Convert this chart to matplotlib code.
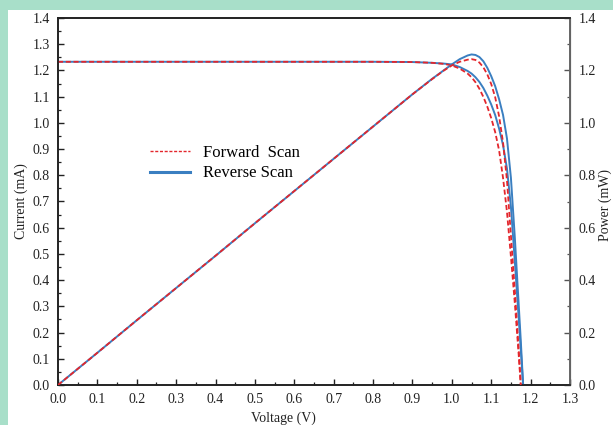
import matplotlib
matplotlib.use('Agg')
import matplotlib.pyplot as plt
from matplotlib.lines import Line2D
from matplotlib.patches import Rectangle
from matplotlib.ticker import MultipleLocator

plt.rcParams['font.family'] = ['Liberation Serif', 'DejaVu Serif']

# values (V, mA, mW)
voltage_fwd = [0.0, 0.1, 0.2, 0.3, 0.4, 0.5, 0.6, 0.7, 0.8, 0.9, 0.95, 0.98, 1.0, 1.02, 1.04,
               1.05, 1.06, 1.07, 1.08, 1.09, 1.10, 1.11, 1.12, 1.13, 1.14, 1.15, 1.16, 1.17, 1.175]
current_fwd = [1.233, 1.233, 1.233, 1.233, 1.233, 1.233, 1.233, 1.233, 1.233, 1.232, 1.229, 1.225,
               1.219, 1.207, 1.188, 1.174, 1.155, 1.130, 1.099, 1.062, 1.018, 0.965, 0.895, 0.790,
               0.660, 0.490, 0.310, 0.110, 0.0]
power_fwd = [0.0, 0.123, 0.247, 0.370, 0.493, 0.617, 0.740, 0.863, 0.986, 1.109, 1.167, 1.200,
             1.219, 1.233, 1.241, 1.243, 1.240, 1.230, 1.212, 1.185, 1.148, 1.098, 1.025, 0.925,
             0.780, 0.570, 0.360, 0.130, 0.0]

voltage_rev = [0.0, 0.1, 0.2, 0.3, 0.4, 0.5, 0.6, 0.7, 0.8, 0.9, 0.95, 0.98, 1.0, 1.02, 1.04,
               1.05, 1.06, 1.07, 1.08, 1.09, 1.10, 1.11, 1.12, 1.13, 1.14, 1.15, 1.16, 1.17, 1.175, 1.181]
current_rev = [1.233, 1.233, 1.233, 1.233, 1.233, 1.233, 1.233, 1.233, 1.233, 1.232, 1.229, 1.226,
               1.223, 1.213, 1.198, 1.188, 1.174, 1.156, 1.133, 1.104, 1.070, 1.030, 0.978, 0.915,
               0.825, 0.680, 0.470, 0.250, 0.135, 0.0]
power_rev = [0.0, 0.123, 0.247, 0.370, 0.493, 0.617, 0.740, 0.863, 0.986, 1.109, 1.168, 1.201,
             1.223, 1.243, 1.257, 1.261, 1.259, 1.251, 1.235, 1.210, 1.178, 1.140, 1.090, 1.030,
             0.940, 0.790, 0.560, 0.300, 0.170, 0.0]

red = '#e3262c'
blue = '#3a7fc1'
fs = 10

fig = plt.figure(figsize=(6.13, 4.25), dpi=100)
fig.patch.set_facecolor('#a8dfc9')
fig.add_artist(Rectangle((8 / 613, 0), 1, 1 - 10 / 425, transform=fig.transFigure,
                         facecolor='white', edgecolor='none', zorder=-1))

ax = fig.add_axes([58 / 613, 1 - 385 / 425, 512 / 613, 367 / 425])
ax2 = ax.twinx()

# reverse scan (solid) under forward scan (dashed)
ax.plot(voltage_rev, current_rev, color=blue, lw=1.4, zorder=2)
ax2.plot(voltage_rev, power_rev, color=blue, lw=1.4, zorder=2)
ax.plot(voltage_fwd, current_fwd, color=red, lw=1.3, dashes=(2.8, 1.5), zorder=3)
ax2.plot(voltage_fwd, power_fwd, color=red, lw=1.3, dashes=(2.8, 1.5), zorder=3)

ax.set_xlim(0, 1.3)
ax.set_ylim(0, 1.4)
ax2.set_ylim(0, 1.4)

ax.xaxis.set_major_locator(MultipleLocator(0.1))
ax.xaxis.set_minor_locator(MultipleLocator(0.05))
ax.yaxis.set_major_locator(MultipleLocator(0.1))
ax.yaxis.set_minor_locator(MultipleLocator(0.05))
ax2.yaxis.set_major_locator(MultipleLocator(0.2))
ax2.yaxis.set_minor_locator(MultipleLocator(0.1))
ax.xaxis.set_major_formatter(lambda v, p: f'{v:.1f}')
ax.yaxis.set_major_formatter(lambda v, p: f'{v:.1f}')
ax2.yaxis.set_major_formatter(lambda v, p: f'{v:.1f}')

ax.tick_params(which='major', direction='in', length=4.5, width=1.0, labelsize=fs,
               colors='#222222', pad=6, top=False, right=False)
ax.tick_params(which='minor', direction='in', length=2.5, width=0.9, colors='#222222',
               top=False, right=False)
ax2.tick_params(which='major', direction='in', length=4.5, width=1.0, labelsize=fs,
                colors='#555555', labelcolor='#222222', pad=6)
ax2.tick_params(which='minor', direction='in', length=2.5, width=0.9, colors='#555555')

for side in ['left', 'bottom', 'top']:
    ax.spines[side].set_linewidth(1.2)
    ax.spines[side].set_color('#222222')
    ax2.spines[side].set_linewidth(1.2)
    ax2.spines[side].set_color('#222222')
ax2.spines['right'].set_linewidth(1.4)
ax2.spines['right'].set_color('#666666')

ax.set_xlabel('Voltage (V)', fontsize=fs, color='#222222')
ax.set_ylabel('Current (mA)', fontsize=fs, color='#222222')
ax2.set_ylabel('Power (mW)', fontsize=fs, color='#222222')
ax.xaxis.set_label_coords(0.44, -0.071)
ax.yaxis.set_label_coords(-0.058, 0.5)
ax2.yaxis.set_label_coords(1.055, 0.49)

handles = [Line2D([], [], color=red, lw=1.0, dashes=(2.2, 1.2)),
           Line2D([], [], color=blue, lw=2.2)]
ax.legend(handles, ['Forward  Scan', 'Reverse Scan'], loc='upper left',
          bbox_to_anchor=(0.150, 0.694), frameon=False, fontsize=12,
          handlelength=2.4, handletextpad=0.8, labelspacing=0.25)

fig.savefig('out.png', dpi=100, facecolor=fig.get_facecolor())
